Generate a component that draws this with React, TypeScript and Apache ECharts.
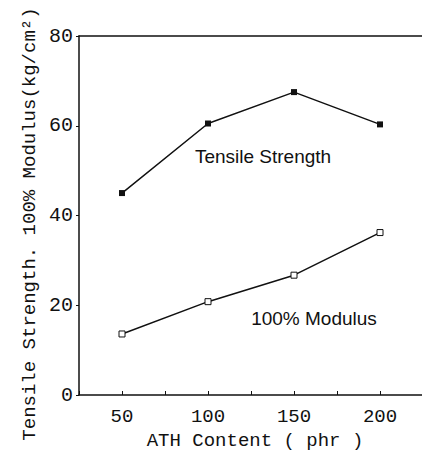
import React, { useEffect, useRef } from "react";
import * as echarts from "echarts";

const athContent = [50, 100, 150, 200];
const tensileStrength = [45.0, 60.5, 67.5, 60.3];
const modulus100 = [13.6, 20.8, 26.7, 36.2];
const yTicks = [0, 20, 40, 60, 80];
const xTicks = [50, 100, 150, 200];

const MONO = "'Liberation Mono', 'DejaVu Sans Mono', monospace";
const SANS = "'Liberation Sans', 'DejaVu Sans', sans-serif";

export default function App() {
  const ref = useRef<HTMLDivElement>(null);
  useEffect(() => {
    if (!ref.current) return;
    const chart = echarts.init(ref.current, undefined, { renderer: "svg" });
    const toPairs = (ys: number[]) => athContent.map((x, i) => [x, ys[i]]);
    chart.setOption({
      animation: false,
      backgroundColor: "#fff",
      grid: { left: 79, right: -1, top: 36, bottom: 56, containLabel: false, outerBoundsMode: "none" },
      xAxis: [
        {
          type: "value",
          min: 25,
          max: 225,
          interval: 25,
          name: "ATH Content ( phr )",
          nameLocation: "middle",
          nameGap: 36,
          nameTextStyle: { fontFamily: MONO, fontSize: 19, color: "#111", padding: [0, 0, 0, 8] },
          axisLine: { show: true, lineStyle: { color: "#111", width: 1.5 } },
          axisTick: { show: true, inside: true, length: 4, lineStyle: { color: "#111" }, interval: 0 },
          splitLine: { show: false },
          axisLabel: {
            fontFamily: MONO,
            fontSize: 19,
            color: "#111",
            margin: 12,
            formatter: (v: number) => (xTicks.includes(v) ? String(v) : ""),
          },
        },
        {
          type: "value",
          position: "top",
          min: 25,
          max: 225,
          axisLine: { show: true, lineStyle: { color: "#111", width: 1.5 } },
          axisTick: { show: false },
          axisLabel: { show: false },
          splitLine: { show: false },
        },
      ],
      yAxis: {
        type: "value",
        min: yTicks[0],
        max: yTicks[yTicks.length - 1],
        interval: 20,
        axisLine: { show: true, lineStyle: { color: "#111", width: 1.5 } },
        axisTick: { show: true, length: 3, lineStyle: { color: "#111" } },
        splitLine: { show: false },
        axisLabel: { fontFamily: MONO, fontSize: 20, color: "#111", margin: 6 },
      },
      graphic: [
        {
          type: "text",
          x: 30,
          y: 224,
          rotation: Math.PI / 2,
          style: {
            text: "Tensile Strength. 100% Modulus(kg/cm²)",
            fontFamily: MONO,
            fontSize: 19,
            fill: "#111",
            align: "center",
            verticalAlign: "middle",
          },
        },
        {
          type: "text",
          x: 263,
          y: 156,
          style: {
            text: "Tensile Strength",
            fontFamily: SANS,
            fontSize: 19,
            fill: "#111",
            align: "center",
            verticalAlign: "middle",
          },
        },
        {
          type: "text",
          x: 314,
          y: 318,
          style: {
            text: "100% Modulus",
            fontFamily: SANS,
            fontSize: 19,
            fill: "#111",
            align: "center",
            verticalAlign: "middle",
          },
        },
      ],
      series: [
        {
          name: "Tensile Strength",
          type: "line",
          data: toPairs(tensileStrength),
          symbol: "rect",
          symbolSize: 6,
          lineStyle: { color: "#111", width: 1.5 },
          itemStyle: { color: "#111" },
        },
        {
          name: "100% Modulus",
          type: "line",
          data: toPairs(modulus100),
          symbol: "rect",
          symbolSize: 6,
          lineStyle: { color: "#111", width: 1.5 },
          itemStyle: { color: "#fff", borderColor: "#111", borderWidth: 1 },
        },
      ],
    });
    return () => chart.dispose();
  }, []);
  return <div ref={ref} style={{ width: 422, height: 451, position: "absolute", left: 0, top: 0 }} />;
}
